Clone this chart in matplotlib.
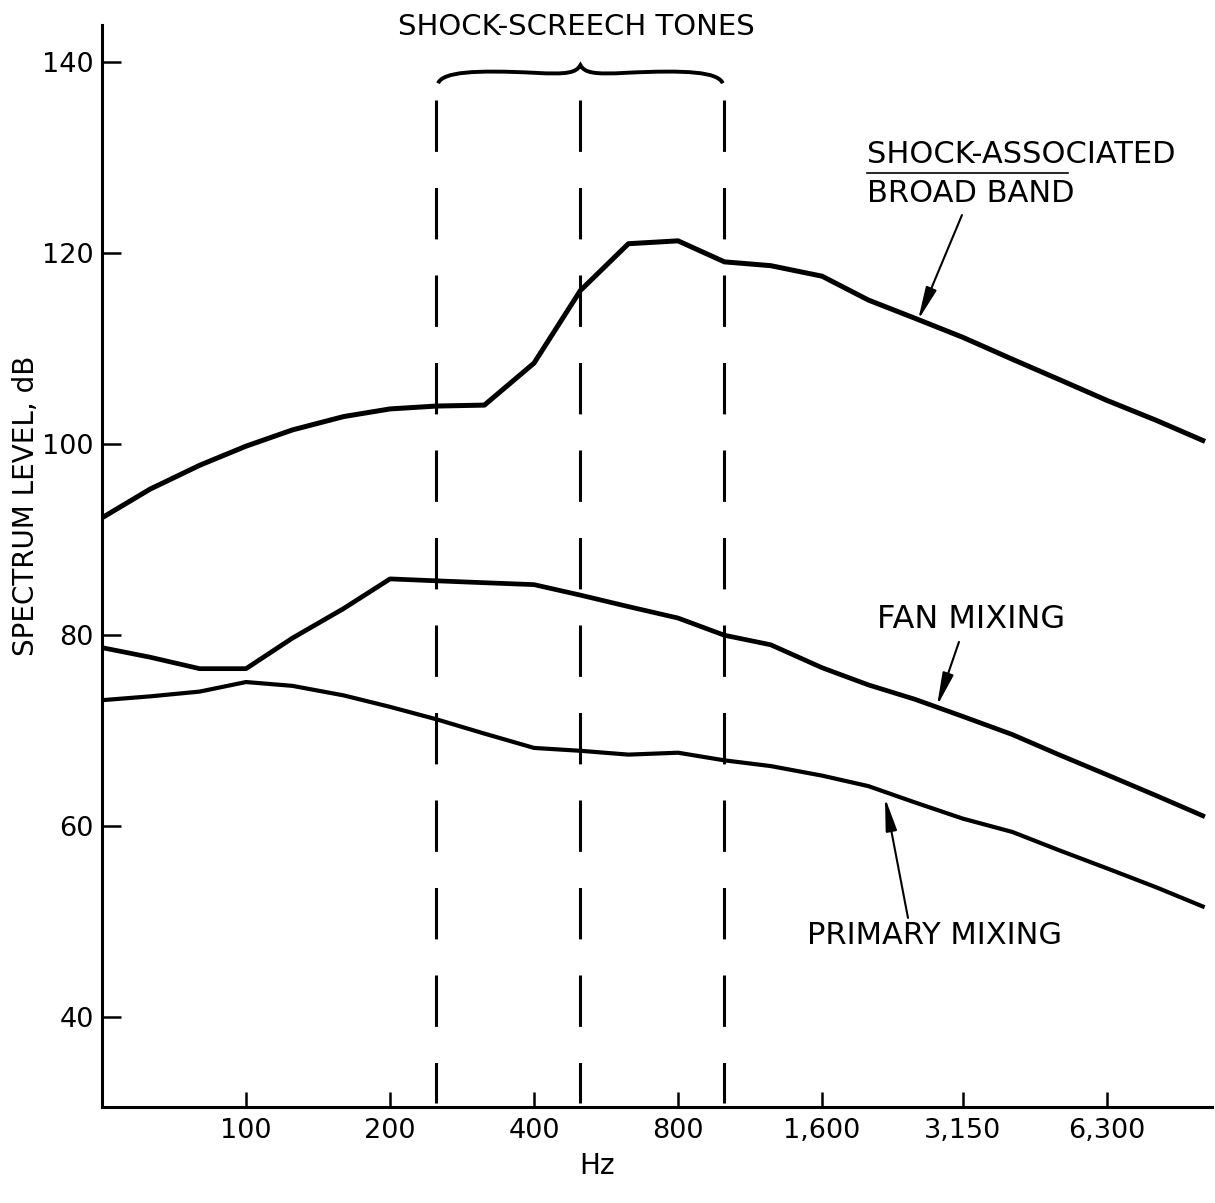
import numpy as np
import matplotlib.pyplot as plt
from matplotlib.path import Path
from matplotlib.patches import PathPatch

plt.rcParams['font.family'] = ['DejaVu Sans']
plt.rcParams['lines.scale_dashes'] = False

# one-third octave band centre frequencies, Hz
freq = [50, 63, 80, 100, 125, 160, 200, 250, 315, 400, 500, 630, 800,
        1000, 1250, 1600, 2000, 2500, 3150, 4000, 5000, 6300, 8000, 10000]

# spectrum levels, dB
shock_bb = [92.3, 95.3, 97.8, 99.8, 101.5, 102.9, 103.7, 104.0, 104.1, 108.5,
            116.1, 121.0, 121.3, 119.1, 118.7, 117.6, 115.1, 113.2, 111.2,
            108.9, 106.8, 104.6, 102.5, 100.4]
fan_mix = [78.7, 77.7, 76.5, 76.5, 79.7, 82.8, 85.9, 85.7, 85.5, 85.3, 84.2,
           83.0, 81.8, 80.0, 79.0, 76.6, 74.8, 73.3, 71.5, 69.6, 67.5, 65.4,
           63.2, 61.1]
primary_mix = [73.2, 73.6, 74.1, 75.1, 74.7, 73.7, 72.5, 71.2, 69.7, 68.2,
               67.9, 67.5, 67.7, 66.9, 66.3, 65.3, 64.2, 62.5, 60.8, 59.4,
               57.5, 55.6, 53.6, 51.6]

# screech tone frequencies
tone_freq = [250, 500, 1000]

xticks = [100, 200, 400, 800, 1600, 3150, 6300]
xtick_labels = ['100', '200', '400', '800', '1,600', '3,150', '6,300']
yticks = [40, 60, 80, 100, 120, 140]

fig = plt.figure(figsize=(12.15, 12.03), dpi=100)
ax = fig.add_axes([0.084, 0.0798, 0.9136, 0.8994])

ax.plot(freq, shock_bb, color='black', lw=3.6, solid_joinstyle='round')
ax.plot(freq, fan_mix, color='black', lw=3.4, solid_joinstyle='round')
ax.plot(freq, primary_mix, color='black', lw=3.0, solid_joinstyle='round')

for f in tone_freq:
    ax.plot([f, f], [136, 31], color='black', lw=2.2, dashes=(37, 26))

ax.set_xscale('log')
ax.set_xlim(50, 10460)
ax.set_ylim(30.6, 143.9)
ax.set_xticks(xticks)
ax.set_xticklabels(xtick_labels)
ax.minorticks_off()
ax.set_yticks(yticks)

for s in ['top', 'right']:
    ax.spines[s].set_visible(False)
for s in ['left', 'bottom']:
    ax.spines[s].set_linewidth(2.2)
ax.tick_params(axis='both', direction='in', width=1.8, labelsize=19.5)
ax.tick_params(axis='y', length=14, pad=6)
ax.tick_params(axis='x', length=11, pad=8)

ax.set_ylabel('SPECTRUM LEVEL, dB', fontsize=20)
ax.yaxis.set_label_coords(-0.056, 0.556)
ax.set_xlabel('Hz', fontsize=20)
ax.xaxis.set_label_coords(0.446, -0.042)

# curly brace over the screech tones
lo, mid, hi = tone_freq
left = [(252, 137.8), (258, 139.0), (300, 139.2), (400, 138.9),
        (470, 138.7), (490, 138.9), (mid, 139.7)]
right = [(lo * hi / f, y) for f, y in reversed(left)]
verts = left + right[1:]
codes = [Path.MOVETO] + [Path.CURVE4] * 6 + [Path.CURVE4] * 6
ax.add_patch(PathPatch(Path(verts, codes), fill=False, lw=2.8,
                       color='black', clip_on=False))
ax.text(490, 143.7, 'SHOCK-SCREECH TONES', fontsize=21, ha='center',
        va='center', clip_on=False)

arrow = dict(arrowstyle='-|>,head_length=2.0,head_width=0.34',
             color='black', lw=1.5, shrinkA=0, shrinkB=0, mutation_scale=10)

ax.text(1987, 130.3, 'SHOCK-ASSOCIATED', fontsize=22, ha='left', va='center')
ax.text(1987, 126.3, 'BROAD BAND', fontsize=22, ha='left', va='center')
ax.plot([1987, 5228], [128.4, 128.4], color='black', lw=1.2)
ax.annotate('', xy=(2540, 113.0), xytext=(3138, 124.0), arrowprops=arrow)

ax.text(2085, 81.7, 'FAN MIXING', fontsize=23, ha='left', va='center')
ax.annotate('', xy=(2783, 72.6), xytext=(3093, 79.3), arrowprops=arrow)

ax.text(1489, 48.6, 'PRIMARY MIXING', fontsize=22, ha='left', va='center')
ax.annotate('', xy=(2166, 63.0), xytext=(2420, 50.4), arrowprops=arrow)

fig.savefig('out.png', dpi=100, facecolor='white')
